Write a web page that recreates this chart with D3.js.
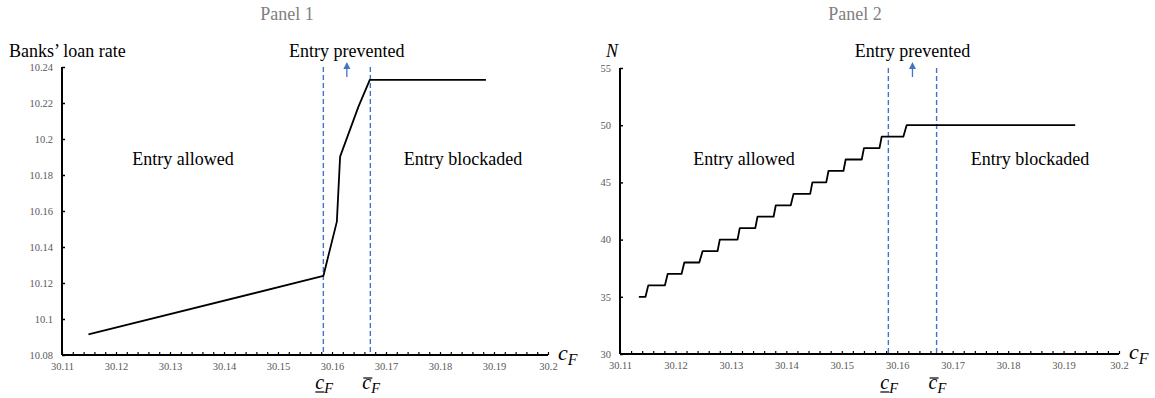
<!DOCTYPE html>
<html>
<head>
<meta charset="utf-8">
<script src="https://d3js.org/d3.v7.min.js"></script>
<style>
  body { margin: 0; background: #fff; }
  text { font-family: "Liberation Serif", "Times New Roman", serif; }
  .tick text { fill: #595959; font-size: 10.5px; }
  .lbl { font-size: 18px; fill: #000; }
  .ptitle { font-size: 18px; fill: #808080; }
</style>
</head>
<body>
<svg id="chart" width="1155" height="398"></svg>
<script>
  // shared x values (c_F)
  var xTicks = [30.11, 30.12, 30.13, 30.14, 30.15, 30.16, 30.17, 30.18, 30.19, 30.2];
  var cLow = 30.1584, cHigh = 30.1671;

  // panel 1: banks' loan rate
  var rateTicks = [10.08, 10.1, 10.12, 10.14, 10.16, 10.18, 10.2, 10.22, 10.24];
  var rateX = [30.1149, 30.1584, 30.1609, 30.1615, 30.1649, 30.1670, 30.1885];
  var rateY = [10.0915, 10.1239, 10.1541, 10.1902, 10.2180, 10.2328, 10.2328];

  // panel 2: number of firms N (flat segments)
  var nTicks = [30, 35, 40, 45, 50, 55];
  var nLevels = [35, 36, 37, 38, 39, 40, 41, 42, 43, 44, 45, 46, 47, 48, 49, 50];
  var nFrom = [30.1134, 30.1151, 30.1186, 30.1216, 30.1249, 30.1280, 30.1316, 30.1348,
               30.1381, 30.1413, 30.1447, 30.1476, 30.1507, 30.1540, 30.1572, 30.1617];
  var nTo   = [30.1146, 30.1181, 30.1211, 30.1243, 30.1276, 30.1312, 30.1344, 30.1377,
               30.1408, 30.1443, 30.1472, 30.1503, 30.1536, 30.1568, 30.1611, 30.1921];

  var svg = d3.select("#chart");
  var blue = "#4472C4";
  var minorTicks = d3.range(0, 46).map(function (i) { return 30.11 + i * 0.002; });

  function drawPanel(opt) {
    var g = svg.append("g");
    var x = d3.scaleLinear().domain([30.11, 30.2]).range([opt.left, opt.right]);
    var y = d3.scaleLinear().domain(opt.yDomain).range([opt.bottom, opt.top]);

    // title
    g.append("text").attr("class", "ptitle").attr("x", opt.titleX).attr("y", 20)
      .attr("text-anchor", "middle").text(opt.title);

    // x minor ticks (pointing up)
    g.append("g").attr("transform", "translate(0," + opt.bottom + ")")
      .call(d3.axisBottom(x).tickValues(minorTicks).tickSize(-3).tickSizeOuter(0).tickFormat(""))
      .call(function (a) { a.select(".domain").remove(); a.selectAll("line").attr("stroke", "#000").attr("stroke-width", 1.2); });
    // x labels
    g.append("g").attr("transform", "translate(0," + opt.bottom + ")")
      .call(d3.axisBottom(x).tickValues(xTicks).tickSize(0).tickPadding(8)
        .tickFormat(function (d) { return String(+d.toFixed(2)); }))
      .call(function (a) { a.select(".domain").remove(); a.attr("font-family", null); });

    // y axis
    g.append("g").attr("transform", "translate(" + opt.left + ",0)")
      .call(d3.axisLeft(y).tickValues(opt.yTicks).tickSize(-3).tickSizeOuter(0).tickPadding(9)
        .tickFormat(function (d) { return String(+d.toFixed(2)); }))
      .call(function (a) { a.select(".domain").remove(); a.attr("font-family", null); a.selectAll("line").attr("stroke", "#000").attr("stroke-width", 1.5); });

    // axis lines
    g.append("line").attr("x1", opt.left).attr("x2", opt.left).attr("y1", opt.top).attr("y2", opt.bottom)
      .attr("stroke", "#000").attr("stroke-width", 2);
    g.append("line").attr("x1", opt.left).attr("x2", opt.right).attr("y1", opt.bottom).attr("y2", opt.bottom)
      .attr("stroke", "#000").attr("stroke-width", 2);

    // dashed thresholds
    [cLow, cHigh].forEach(function (c) {
      g.append("line").attr("x1", x(c)).attr("x2", x(c)).attr("y1", opt.top).attr("y2", opt.bottom)
        .attr("stroke", blue).attr("stroke-width", 1.4).attr("stroke-dasharray", "5,3");
    });

    // curve
    g.append("path").datum(opt.points)
      .attr("fill", "none").attr("stroke", "#000").attr("stroke-width", 1.8).attr("stroke-linejoin", "round")
      .attr("d", d3.line().x(function (d) { return x(d[0]); }).y(function (d) { return y(d[1]); }));

    // y label
    g.append("text").attr("class", "lbl").attr("x", opt.yLabelX).attr("y", 57)
      .attr("font-style", opt.yLabelItalic ? "italic" : "normal")
      .attr("text-anchor", opt.yLabelAnchor).text(opt.yLabel);

    // region labels
    var mid = (x(cLow) + x(cHigh)) / 2;
    g.append("text").attr("class", "lbl").attr("x", mid).attr("y", 57).attr("text-anchor", "middle").text("Entry prevented");
    g.append("text").attr("class", "lbl").attr("x", opt.allowX).attr("y", 165).attr("text-anchor", "middle").text("Entry allowed");
    g.append("text").attr("class", "lbl").attr("x", opt.blockX).attr("y", 165).attr("text-anchor", "middle").text("Entry blockaded");

    // small arrow
    g.append("line").attr("x1", mid).attr("x2", mid).attr("y1", 77).attr("y2", 68)
      .attr("stroke", blue).attr("stroke-width", 1.3);
    g.append("path").attr("d", "M" + (mid - 3.5) + ",69 L" + (mid + 3.5) + ",69 L" + mid + ",62 Z").attr("fill", blue);

    // c_F axis label
    cLabel(g, opt.right + 10, opt.bottom + 5, 22, null);
    // threshold labels below
    cLabel(g, x(cLow) - 8, 389, 20, "under");
    cLabel(g, x(cHigh) - 8, 389, 20, "bar");
  }

  function cLabel(g, xPos, yPos, size, mark) {
    var t = g.append("text").attr("x", xPos).attr("y", yPos).attr("font-style", "italic")
      .attr("font-size", size).attr("fill", "#000");
    t.append("tspan").text("c");
    t.append("tspan").attr("font-size", size * 0.72).attr("dy", size * 0.22).text("F");
    var cw = size * 0.45;
    if (mark === "under") {
      g.append("line").attr("x1", xPos).attr("x2", xPos + cw).attr("y1", yPos + 3).attr("y2", yPos + 3)
        .attr("stroke", "#000").attr("stroke-width", 1.2);
    } else if (mark === "bar") {
      g.append("line").attr("x1", xPos + 1).attr("x2", xPos + cw + 1).attr("y1", yPos - size * 0.55).attr("y2", yPos - size * 0.55)
        .attr("stroke", "#000").attr("stroke-width", 1.2);
    }
  }

  var ratePoints = rateX.map(function (v, i) { return [v, rateY[i]]; });
  var nPoints = [];
  nLevels.forEach(function (n, i) {
    nPoints.push([nFrom[i], n]);
    nPoints.push([nTo[i], n]);
  });

  drawPanel({
    title: "Panel 1", titleX: 287,
    left: 62, right: 548, top: 67, bottom: 355,
    yDomain: [10.08, 10.24], yTicks: rateTicks,
    points: ratePoints,
    yLabel: "Banks\u2019 loan rate", yLabelX: 9, yLabelAnchor: "start", yLabelItalic: false,
    allowX: 183, blockX: 463
  });

  drawPanel({
    title: "Panel 2", titleX: 855,
    left: 620, right: 1119, top: 68, bottom: 354,
    yDomain: [30, 55], yTicks: nTicks,
    points: nPoints,
    yLabel: "N", yLabelX: 612, yLabelAnchor: "middle", yLabelItalic: true,
    allowX: 744, blockX: 1030
  });
</script>
</body>
</html>
